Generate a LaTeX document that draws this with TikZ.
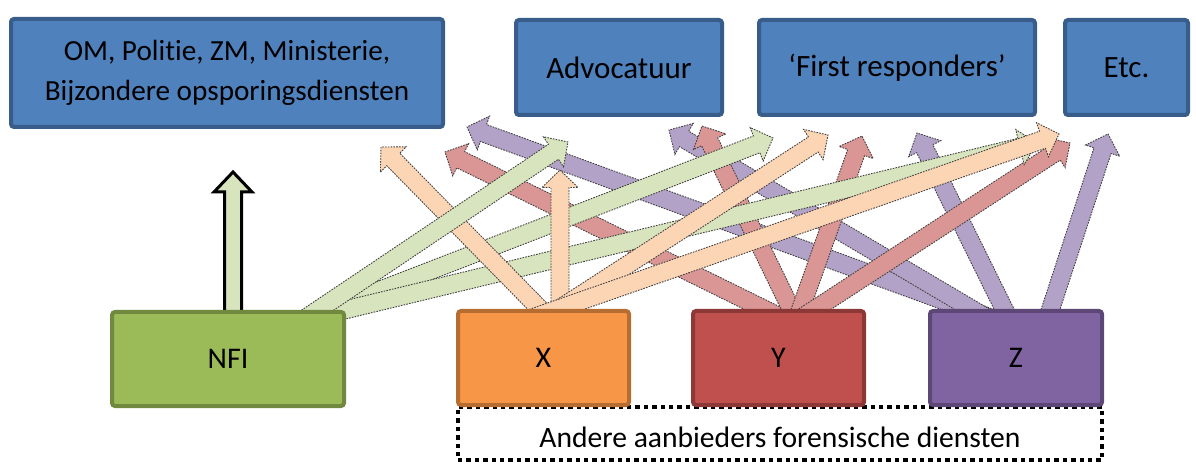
\documentclass[tikz,border=0pt]{standalone}
\usepackage{fontspec}
\setmainfont{Carlito}[Ligatures={NoCommon}]
\usetikzlibrary{calc}
\definecolor{boxblue}{HTML}{4F81BD}
\definecolor{boxblueD}{HTML}{385D8A}
\definecolor{nfiG}{HTML}{9BBB59}
\definecolor{nfiGD}{HTML}{71893F}
\definecolor{xO}{HTML}{F79646}
\definecolor{xOD}{HTML}{B66D31}
\definecolor{yR}{HTML}{C0504D}
\definecolor{yRD}{HTML}{8C3836}
\definecolor{zP}{HTML}{8064A2}
\definecolor{zPD}{HTML}{5C4776}
\definecolor{lG}{HTML}{D7E4BD}
\definecolor{lO}{HTML}{FCD5B5}
\definecolor{lR}{HTML}{D99694}
\definecolor{lP}{HTML}{B3A2C7}
% block arrow: style, from, to, half shaft, half head, head length
\newcommand{\blockarr}[6]{%
  \draw[#1] let \p1=(#2), \p2=(#3), \n1={atan2(\y2-\y1,\x2-\x1)} in
    ($(\p1)+(\n1+180:12pt)+(\n1+90:#4)$) --
    ($(\p2)+(\n1+180:#6)+(\n1+90:#4)$) --
    ($(\p2)+(\n1+180:#6)+(\n1+90:#5)$) --
    (\p2) --
    ($(\p2)+(\n1+180:#6)+(\n1-90:#5)$) --
    ($(\p2)+(\n1+180:#6)+(\n1-90:#4)$) --
    ($(\p1)+(\n1+180:12pt)+(\n1-90:#4)$) -- cycle;
}
\newcommand{\carr}[3]{\blockarr{#1}{#2}{#3}{4.5pt}{9pt}{8.75pt}}
\tikzset{
  topbox/.style={draw=boxblueD, fill=boxblue, line width=2pt, rounded corners=1.5pt,
    inner sep=0pt, align=center, font=\fontsize{15.5}{20}\selectfont},
  botbox/.style={line width=2pt, rounded corners=1.5pt, inner sep=0pt,
    minimum width=85.5pt, minimum height=47pt, font=\fontsize{15}{20}\selectfont},
  flow/.style={draw=black!75, line width=0.45pt, dash pattern=on 0.8pt off 0.6pt, line join=miter},
  gflow/.style={flow, fill=lG},
  oflow/.style={flow, fill=lO},
  rflow/.style={flow, fill=lR},
  pflow/.style={flow, fill=lP},
  nfiflow/.style={draw=black, line width=1.5pt, fill=lG, line join=miter},
  dotbox/.style={draw=black, line width=2pt, dash pattern=on 2.2pt off 2pt}
}
\begin{document}
\begin{tikzpicture}[x=0.5pt, y=-0.5pt]
\useasboundingbox (0,0) rectangle (1196,465);
% target boxes
\node[topbox, minimum width=216pt, minimum height=54pt, font=\fontsize{14.6}{20}\selectfont] (om) at (227,73)
  {OM, Politie, ZM, Ministerie,\\Bijzondere opsporingsdiensten};
\node[topbox, minimum width=103pt, minimum height=47.5pt] (adv) at (619,67.5) {Advocatuur};
\node[topbox, minimum width=138pt, minimum height=47.5pt] (fr) at (897,67.5) {‘First responders’};
\node[topbox, minimum width=61.5pt, minimum height=47.5pt] (etc) at (1126.5,67.5) {Etc.};
% other providers dotted frame (behind boxes)
\node[dotbox, minimum width=322pt, minimum height=26.5pt, inner sep=0pt] (andere) at (780,433.5) {};
% arrow tails (inside source boxes) and tips (below targets)
\coordinate (gT) at (303,320);
\coordinate (x1T) at (542,311);
\coordinate (x2T) at (560,311);
\coordinate (x3T) at (556,311);
\coordinate (x4T) at (552,311);
\coordinate (y1T) at (768,311);
\coordinate (y2T) at (792,311);
\coordinate (y3T) at (800,311);
\coordinate (y4T) at (812,311);
\coordinate (z1T) at (972,311);
\coordinate (z2T) at (975,311);
\coordinate (z3T) at (1005,311);
\coordinate (z4T) at (1050,311);
\coordinate (gA) at (568,142);
\coordinate (gF) at (773,138);
\coordinate (gE) at (1037,143);
\coordinate (xOm) at (381,147);
\coordinate (xA) at (560,170);
\coordinate (xF) at (828,135);
\coordinate (xE) at (1059,134);
\coordinate (yOm) at (445,152);
\coordinate (yA) at (702,126);
\coordinate (yF) at (862,136);
\coordinate (yE) at (1070,143);
\coordinate (zOm) at (467,127);
\coordinate (zA) at (669,130);
\coordinate (zF) at (917,133);
\coordinate (zE) at (1108,134);
\coordinate (nT) at (233,318);
\coordinate (nOm) at (233,172);
% arrows
\carr{pflow}{z1T}{zOm}
\carr{pflow}{z2T}{zA}
\carr{pflow}{z3T}{zF}
\carr{pflow}{z4T}{zE}
\carr{rflow}{y1T}{yOm}
\carr{rflow}{y2T}{yA}
\carr{rflow}{y3T}{yF}
\carr{rflow}{y4T}{yE}
\carr{gflow}{gT}{gF}
\carr{gflow}{gT}{gE}
\carr{oflow}{x1T}{xOm}
\carr{oflow}{x2T}{xA}
\carr{oflow}{x3T}{xF}
\carr{oflow}{x4T}{xE}
\carr{gflow}{gT}{gA}
\blockarr{nfiflow}{nT}{nOm}{4.25pt}{9.5pt}{10pt}
% source boxes
\node[botbox, draw=nfiGD, fill=nfiG, minimum width=116pt] (nfi) at (228,359) {NFI};
\node[botbox, draw=xOD, fill=xO] (x) at (543.5,358) {X};
\node[botbox, draw=yRD, fill=yR] (y) at (778.5,358) {Y};
\node[botbox, draw=zPD, fill=zP, minimum width=86pt] (z) at (1016,358) {Z};
\node[font=\fontsize{14.8}{20}\selectfont] (anderelbl) at (780,437) {Andere aanbieders forensische diensten};
\end{tikzpicture}
\end{document}
